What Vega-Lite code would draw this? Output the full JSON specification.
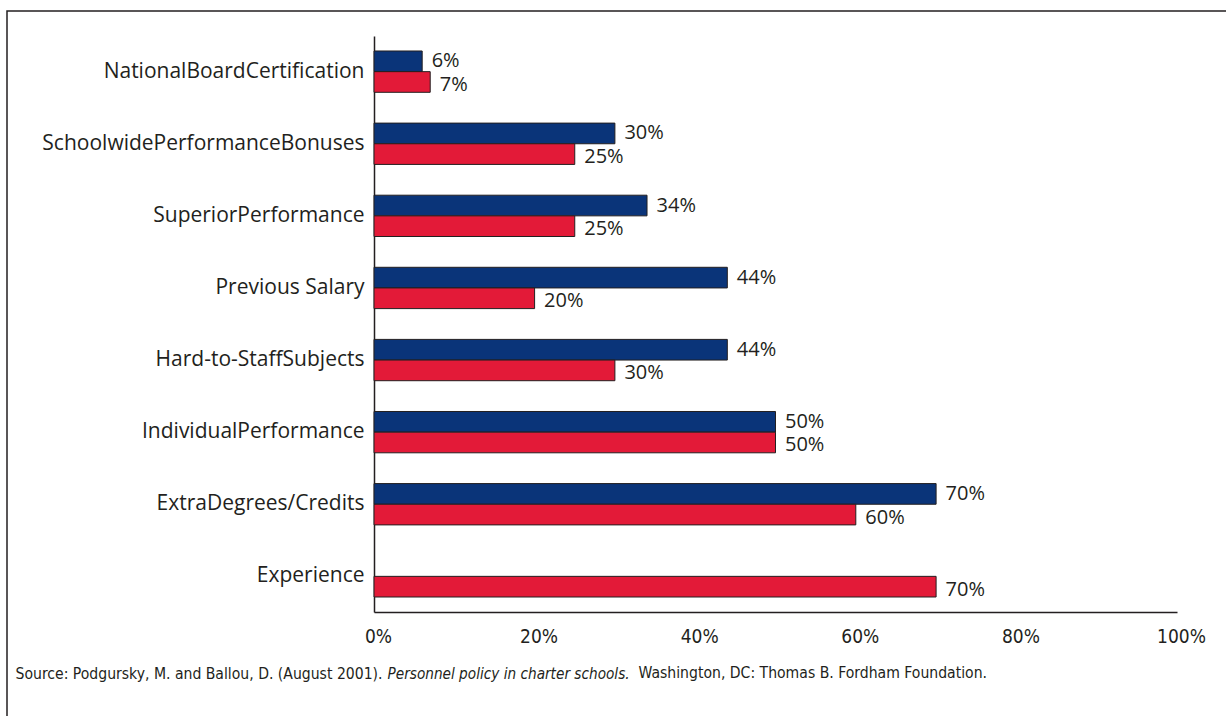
{
  "$schema": "https://vega.github.io/schema/vega-lite/v6.json",
  "width": 1230,
  "height": 720,
  "autosize": {"type": "none"},
  "padding": {"left": 7, "top": 11, "right": -11, "bottom": -15},
  "background": "white",
  "config": {"view": {"stroke": "#231f20", "strokeWidth": 1.5}, "font": "Open Sans"},
  "title": {
    "text": "Washington, DC: Thomas B. Fordham Foundation.",
    "anchor": "start", "frame": "group", "orient": "top", "offset": 0, "align": "right",
    "dx": 980, "dy": 683, "baseline": "alphabetic",
    "font": "DejaVu Sans Condensed", "fontSize": 15.6, "fontWeight": "normal", "color": "#231f20"
  },
  "data": {
    "values": [
      {"policy": "NationalBoardCertification", "series": "Series 1", "share": 0.06},
      {"policy": "NationalBoardCertification", "series": "Series 2", "share": 0.07},
      {"policy": "SchoolwidePerformanceBonuses", "series": "Series 1", "share": 0.30},
      {"policy": "SchoolwidePerformanceBonuses", "series": "Series 2", "share": 0.25},
      {"policy": "SuperiorPerformance", "series": "Series 1", "share": 0.34},
      {"policy": "SuperiorPerformance", "series": "Series 2", "share": 0.25},
      {"policy": "Previous Salary", "series": "Series 1", "share": 0.44},
      {"policy": "Previous Salary", "series": "Series 2", "share": 0.20},
      {"policy": "Hard-to-StaffSubjects", "series": "Series 1", "share": 0.44},
      {"policy": "Hard-to-StaffSubjects", "series": "Series 2", "share": 0.30},
      {"policy": "IndividualPerformance", "series": "Series 1", "share": 0.50},
      {"policy": "IndividualPerformance", "series": "Series 2", "share": 0.50},
      {"policy": "ExtraDegrees/Credits", "series": "Series 1", "share": 0.70},
      {"policy": "ExtraDegrees/Credits", "series": "Series 2", "share": 0.60},
      {"policy": "Experience", "series": "Series 2", "share": 0.70}
    ]
  },
  "encoding": {
    "y": {
      "field": "policy", "type": "nominal",
      "sort": ["NationalBoardCertification", "SchoolwidePerformanceBonuses", "SuperiorPerformance", "Previous Salary", "Hard-to-StaffSubjects", "IndividualPerformance", "ExtraDegrees/Credits", "Experience"],
      "scale": {"range": [25, 601], "paddingInner": 0.427, "paddingOuter": 0.208},
      "axis": {
        "orient": "left", "offset": -367, "ticks": false, "grid": false,
        "domainColor": "#231f20", "domainWidth": 1.5,
        "labelFont": "Open Sans", "labelFontSize": 21, "labelColor": "#231f20", "labelPadding": 10, "labelLimit": 400,
        "title": "Personnel policy in charter schools.",
        "titleX": 13, "titleY": 667, "titleAngle": 0, "titleAlign": "left", "titleBaseline": "alphabetic",
        "titleFont": "DejaVu Sans Condensed", "titleFontSize": 15.2, "titleFontWeight": "normal", "titleFontStyle": "italic", "titleColor": "#231f20"
      }
    },
    "yOffset": {"field": "series", "type": "nominal", "sort": ["Series 1", "Series 2"]},
    "x": {
      "field": "share", "type": "quantitative",
      "scale": {"domain": [0, 1], "range": [367, 1170], "nice": false},
      "axis": {
        "orient": "bottom", "offset": -119, "ticks": false, "grid": false,
        "values": [0, 0.2, 0.4, 0.6, 0.8, 1], "format": ".0%", "labelFlush": false,
        "domainColor": "#231f20", "domainWidth": 1.5,
        "labelFont": "DejaVu Sans Condensed", "labelFontSize": 19, "labelColor": "#231f20", "labelPadding": 15, "labelOffset": 4,
        "title": "Source: Podgursky, M. and Ballou, D. (August 2001).",
        "titleX": 8, "titleY": 66, "titleAlign": "left", "titleBaseline": "alphabetic", "titleAnchor": null,
        "titleFont": "DejaVu Sans Condensed", "titleFontSize": 15.6, "titleFontWeight": "normal", "titleColor": "#231f20"
      }
    }
  },
  "layer": [
    {
      "mark": {"type": "bar", "stroke": "#231f20", "strokeWidth": 1},
      "encoding": {
        "color": {"field": "series", "type": "nominal", "scale": {"domain": ["Series 1", "Series 2"], "range": ["#0a3479", "#e31a38"]}, "legend": null}
      }
    },
    {
      "transform": [{"filter": "datum.series === 'Series 1'"}],
      "mark": {"type": "text", "align": "left", "baseline": "middle", "dx": 9.5, "dy": 0, "font": "Open Sans", "fontSize": 20, "color": "#231f20"},
      "encoding": {"text": {"field": "share", "type": "quantitative", "format": ".0%"}}
    },
    {
      "transform": [{"filter": "datum.series === 'Series 2'"}],
      "mark": {"type": "text", "align": "left", "baseline": "middle", "dx": 9.5, "dy": 3, "font": "Open Sans", "fontSize": 20, "color": "#231f20"},
      "encoding": {"text": {"field": "share", "type": "quantitative", "format": ".0%"}}
    }
  ]
}
